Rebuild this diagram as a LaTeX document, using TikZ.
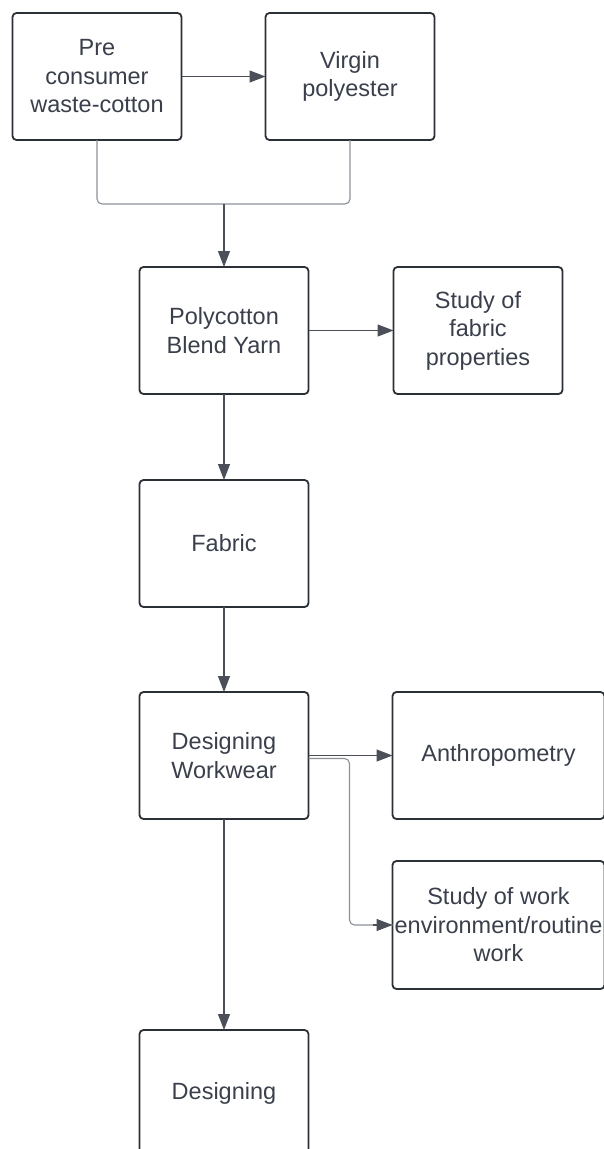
\documentclass[tikz,border=0pt]{standalone}
\usepackage{fontspec}
\setmainfont{Liberation Sans}
\usepackage{xcolor}
\usepackage{tikz}
\usetikzlibrary{arrows.meta,positioning}

\definecolor{boxline}{HTML}{2B2F36}
\definecolor{boxtext}{HTML}{3A3F4B}
\definecolor{linkline}{HTML}{4A4F58}
\definecolor{elbowline}{HTML}{8C9096}

\begin{document}
\begin{tikzpicture}[x=1pt, y=1pt,
box/.style={draw=boxline, line width=1.8pt, rounded corners=4pt, align=center, text=boxtext, inner sep=0pt, outer sep=0pt, minimum width=169pt, minimum height=127pt, font=\fontsize{23.5}{28.5}\selectfont},
widebox/.style={box, minimum width=212pt},
arrow/.style={-{Triangle[length=16pt, width=12pt]}, line width=1.1pt, draw=linkline},
elbow/.style={line width=1.1pt, draw=elbowline, rounded corners=5pt}
]
\useasboundingbox (0,0) rectangle (603,-1149);
\node[box] (pre) at (97,-76.5) {Pre\\consumer\\waste-cotton};
\node[box, right=84pt of pre] (virgin) {Virgin\\polyester};
\coordinate (join) at (224,-204);
\node[box, below=63pt of join] (yarn) {Polycotton\\Blend Yarn};
\node[box, right=85pt of yarn] (props) {Study of\\fabric\\properties};
\node[box, below=86pt of yarn] (fabric) {Fabric};
\node[box, below=85pt of fabric] (work) {Designing\\Workwear};
\node[widebox, right=84pt of work] (anthro) {Anthropometry};
\node[widebox, below=42pt of anthro, minimum height=128pt] (env) {Study of work\\environment/routine\\work};
\node[box, below=211pt of work] (design) {Designing};
\draw[arrow] (pre) -- (virgin);
\draw[elbow] (pre.south) |- (join) -| (virgin.south);
\draw[arrow] (join) -- (yarn);
\draw[arrow] (yarn) -- (props);
\draw[arrow] (yarn) -- (fabric);
\draw[arrow] (fabric) -- (work);
\draw[arrow] (work) -- (anthro);
\draw[elbow] ([yshift=-3pt]work.east) -| ([xshift=-43pt]env.west) -- (env.west);
\draw[arrow] ([xshift=-20pt]env.west) -- (env.west);
\draw[arrow] (work) -- (design);
\end{tikzpicture}
\end{document}
